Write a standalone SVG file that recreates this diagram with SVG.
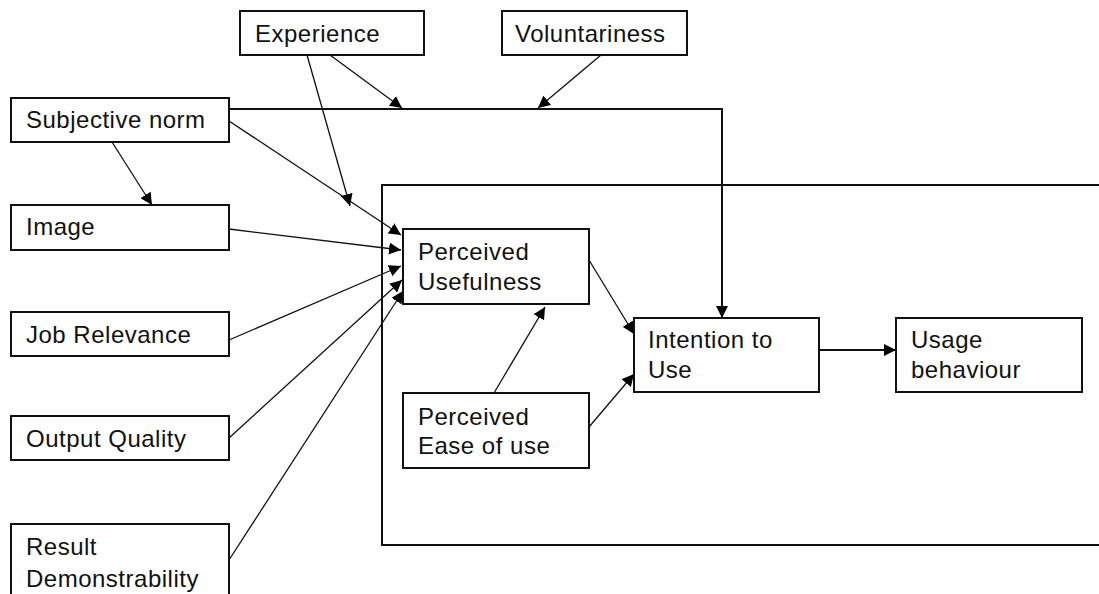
<svg xmlns="http://www.w3.org/2000/svg" width="1099" height="594" viewBox="0 0 1099 594">
<defs>
<marker id="ah" viewBox="0 0 10 10" refX="10" refY="5" markerWidth="12" markerHeight="12" markerUnits="userSpaceOnUse" orient="auto">
<path d="M0,0 L10,5 L0,10 Z" fill="#000"/>
</marker>
</defs>
<style>
.box{fill:#fff;stroke:#111;stroke-width:2}
.frame{fill:none;stroke:#111;stroke-width:2}
.t{font-family:"Liberation Sans",Arial,sans-serif;font-size:24px;letter-spacing:0.5px;fill:#111}
.c{fill:none;stroke:#111;stroke-width:1.3}
.cm{fill:none;stroke:#111;stroke-width:2}
.a{marker-end:url(#ah)}
</style>
<rect width="1099" height="594" fill="#fff"/>
<rect class="frame" x="382" y="185" width="730" height="360"/>
<g id="connectors">
<polyline class="cm a" points="229,109 722,109 722,318"/>
<line class="c a" x1="330" y1="55" x2="402" y2="108"/>
<line class="c a" x1="601" y1="55" x2="538" y2="108"/>
<line class="c a" x1="307" y1="55" x2="350" y2="206"/>
<line class="c a" x1="112" y1="142" x2="152" y2="205"/>
<line class="c a" x1="229" y1="121" x2="401" y2="235"/>
<line class="c a" x1="229" y1="229" x2="401" y2="250"/>
<line class="c a" x1="229" y1="340" x2="401" y2="266"/>
<line class="c a" x1="229" y1="438" x2="402" y2="280"/>
<line class="c a" x1="229" y1="560" x2="403" y2="291"/>
<line class="c a" x1="589" y1="260" x2="634" y2="334"/>
<line class="c a" x1="589" y1="427" x2="634" y2="374"/>
<line class="c a" x1="494" y1="393" x2="545" y2="307"/>
<line class="cm a" x1="819" y1="350" x2="896" y2="350"/>
</g>
<g id="experience"><rect class="box" x="240" y="11" width="184" height="44"/><text class="t" x="255" y="42">Experience</text></g>
<g id="voluntariness"><rect class="box" x="502" y="11" width="185" height="44"/><text class="t" x="515" y="42">Voluntariness</text></g>
<g id="subjective-norm"><rect class="box" x="11" y="98" width="218" height="44"/><text class="t" x="26" y="128">Subjective norm</text></g>
<g id="image"><rect class="box" x="11" y="205" width="218" height="45"/><text class="t" x="26" y="235">Image</text></g>
<g id="job-relevance"><rect class="box" x="11" y="312" width="218" height="44"/><text class="t" x="26" y="343">Job Relevance</text></g>
<g id="output-quality"><rect class="box" x="11" y="416" width="218" height="44"/><text class="t" x="26" y="447">Output Quality</text></g>
<g id="result-demonstrability"><rect class="box" x="11" y="524" width="218" height="80"/><text class="t" x="26" y="555">Result</text><text class="t" x="26" y="587">Demonstrability</text></g>
<g id="perceived-usefulness"><rect class="box" x="403" y="229" width="186" height="75"/><text class="t" x="418" y="260">Perceived</text><text class="t" x="418" y="290">Usefulness</text></g>
<g id="perceived-ease"><rect class="box" x="403" y="393" width="186" height="75"/><text class="t" x="418" y="425">Perceived</text><text class="t" x="418" y="454">Ease of use</text></g>
<g id="intention"><rect class="box" x="634" y="318" width="185" height="74"/><text class="t" x="648" y="348">Intention to</text><text class="t" x="648" y="378">Use</text></g>
<g id="usage"><rect class="box" x="896" y="318" width="186" height="74"/><text class="t" x="911" y="348">Usage</text><text class="t" x="911" y="378">behaviour</text></g>
</svg>
